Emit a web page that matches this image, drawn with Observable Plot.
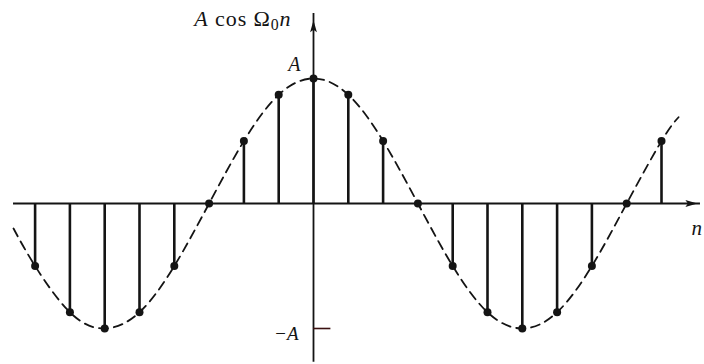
<!DOCTYPE html>
<html>
<head>
<meta charset="utf-8">
<script src="https://cdn.jsdelivr.net/npm/d3@7"></script>
<script src="https://cdn.jsdelivr.net/npm/@observablehq/plot@0.6"></script>
<style>
  html, body { margin: 0; padding: 0; background: #ffffff; }
  #chart svg { display: block; }
</style>
</head>
<body>
<div id="chart"></div>
<script>
// Samples of x[n] = A cos(Ω0 n), in units of A
const nIdx = [-8, -7, -6, -5, -4, -3, -2, -1, 0, 1, 2, 3, 4, 5, 6, 7, 8, 9, 10];
const sampleVals = [-0.5, -0.87, -1, -0.87, -0.5, 0, 0.5, 0.87, 1, 0.87, 0.5, 0, -0.5, -0.87, -1, -0.87, -0.5, 0, 0.5];

// Continuous envelope: the samples plus where the dashed curve starts and ends
const envStart = { n: -8.62, v: -0.2 };
const envEnd = { n: 10.49, v: 0.69 };

// Axis extents (n units for the horizontal axis, A units for the vertical one)
const xAxisSpan = [-8.62, 11.12];
const yAxisSpan = [-1.27, 1.52];
const xArrowAt = 10.83;
const yArrowAt = 1.41;
const minusTick = { v: -1, n1: 0, n2: 0.5 };

// Axis annotations
const topLabel = { v: 1, text: "A" };
const bottomLabel = { v: -1, text: "−A" };
const yTitle = "A cos Ω0n";
const xTitle = "n";

const samples = nIdx.map((n, i) => ({ n, v: sampleVals[i] }));
const envelope = [envStart, ...samples, envEnd];

// Narrow filled arrowhead pointing up; rotated for the horizontal axis
const arrowHead = {
  draw(ctx) {
    ctx.moveTo(0, -7);
    ctx.lineTo(3.4, 5);
    ctx.lineTo(0, 2.5);
    ctx.lineTo(-3.4, 5);
    ctx.closePath();
  }
};

const ink = "#141414";
const serif = "Liberation Serif, DejaVu Serif, serif";

try {
  const chart = Plot.plot({
    width: 704,
    height: 364,
    margin: 0,
    x: { type: "linear", domain: [-313 / 34.8, 391 / 34.8], axis: null },
    y: { type: "linear", domain: [-161 / 125, 203 / 125], axis: null },
    style: { background: "#ffffff", fontFamily: serif },
    marks: [
      // dashed continuous cosine
      Plot.line(envelope, {
        x: "n", y: "v", curve: "natural",
        stroke: ink, strokeWidth: 1.8, strokeDasharray: "9,6"
      }),
      // horizontal axis
      Plot.ruleY([0], { x1: xAxisSpan[0], x2: xAxisSpan[1], stroke: ink, strokeWidth: 2 }),
      Plot.dot([{ n: xArrowAt, v: 0 }], { x: "n", y: "v", symbol: arrowHead, rotate: 90, fill: ink, stroke: "none" }),
      // vertical axis
      Plot.ruleX([0], { y1: yAxisSpan[0], y2: yAxisSpan[1], stroke: ink, strokeWidth: 1.8 }),
      Plot.dot([{ n: 0, v: yArrowAt }], { x: "n", y: "v", symbol: arrowHead, fill: ink, stroke: "none" }),
      // tick at −A, right of the axis
      Plot.ruleY([minusTick], { y: "v", x1: "n1", x2: "n2", stroke: "#3a1010", strokeWidth: 1.6 }),
      // stems
      Plot.ruleX(samples, { x: "n", y1: 0, y2: "v", stroke: ink, strokeWidth: 2.6 }),
      Plot.dot(samples, { x: "n", y: "v", r: 4, fill: ink, stroke: "none" }),
      // level labels
      Plot.text([topLabel], {
        x: 0, y: "v", text: "text", dx: -13, dy: -8,
        textAnchor: "end", lineAnchor: "bottom", fontSize: 20, fontStyle: "italic", fill: ink, fontFamily: serif
      }),
      Plot.text([bottomLabel], {
        x: 0, y: "v", text: "text", dx: -15, dy: 11,
        textAnchor: "end", lineAnchor: "bottom", fontSize: 19, fontStyle: "italic", fill: ink, fontFamily: serif
      }),
      // axis titles
      Plot.text([yTitle], {
        x: 0, y: yAxisSpan[1], dx: -22, dy: 12, text: d => d,
        textAnchor: "end", lineAnchor: "bottom", fontSize: 22, fill: ink, fontFamily: serif
      }),
      Plot.text([xTitle], {
        x: xAxisSpan[1], y: 0, dx: -9, dy: 31, text: d => d,
        textAnchor: "start", lineAnchor: "bottom", fontSize: 21, fontStyle: "italic", fill: ink, fontFamily: serif
      })
    ]
  });

  // the vertical-axis title mixes italic symbols with a subscript
  d3.select(chart).selectAll("text")
    .filter(function () { return this.textContent === yTitle; })
    .attr("letter-spacing", "0.9")
    .each(function () {
      const t = d3.select(this);
      t.text(null);
      t.append("tspan").attr("font-style", "italic").text("A");
      t.append("tspan").text(" cos ");
      t.append("tspan").text("Ω");
      t.append("tspan").attr("font-size", "0.72em").attr("dy", "0.28em").text("0");
      t.append("tspan").attr("font-style", "italic").attr("dy", "-0.2em").text("n");
    });

  document.getElementById("chart").appendChild(chart);
} catch (e) {
  const pre = document.createElement("pre");
  pre.textContent = String(e && e.stack || e);
  document.getElementById("chart").appendChild(pre);
}
</script>
</body>
</html>
